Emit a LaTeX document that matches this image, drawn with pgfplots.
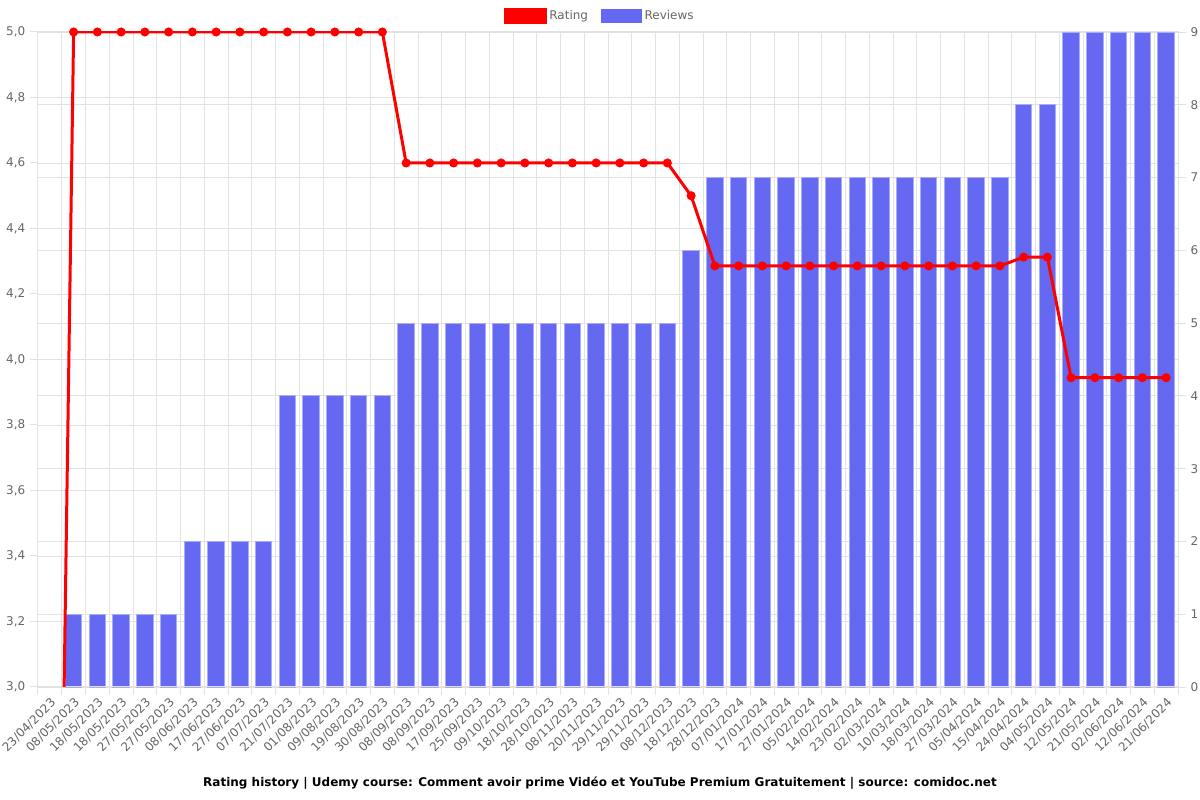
\documentclass[border=0pt]{standalone}
\usepackage{fontspec}
\setmainfont{DejaVu Sans}
\usepackage{pgfplots}
\pgfplotsset{compat=1.18}
\definecolor{barblue}{RGB}{101,104,240}
\definecolor{barborder}{RGB}{170,172,250}
\definecolor{gridgray}{RGB}{226,226,226}
\definecolor{ticktext}{RGB}{102,102,102}
\begin{document}
\begin{tikzpicture}
\useasboundingbox (-28.5pt,-84.75pt) rectangle (871.5pt,515.25pt);
\pgfplotsset{
  base/.style={
    width=855pt, height=491.25pt, scale only axis,
    xmin=-0.5, xmax=47.5,
    axis line style={gridgray, line width=0.75pt},
    tick style={gridgray, line width=0.75pt},
    major tick length=6pt,
    tick align=outside,
    ticklabel style={font=\fontsize{9}{10}\selectfont, text=ticktext},
    /pgf/number format/assume math mode=true,
  }
}
\begin{axis}[base,
  ymin=0, ymax=9,
  ytick={0,1,2,3,4,5,6,7,8,9}, yticklabel pos=right, ytick pos=right,
  xtick={-0.5,0.5,...,47.5}, xticklabels={}, xtick pos=bottom,
  grid=major, grid style={gridgray, line width=0.75pt},
  extra y ticks={0.9,1.8,2.7,3.6,4.5,5.4,6.3,7.2,8.1},
  extra y tick labels={},
  extra y tick style={major tick length=0pt},
  ybar, bar width=0.7,
]
\addplot[fill=barblue, draw=barborder, line width=0.75pt] coordinates {
(1,1) (2,1) (3,1) (4,1) (5,1)
(6,2) (7,2) (8,2) (9,2)
(10,4) (11,4) (12,4) (13,4) (14,4)
(15,5) (16,5) (17,5) (18,5) (19,5) (20,5) (21,5) (22,5) (23,5) (24,5) (25,5) (26,5)
(27,6)
(28,7) (29,7) (30,7) (31,7) (32,7) (33,7) (34,7) (35,7) (36,7) (37,7) (38,7) (39,7) (40,7)
(41,8) (42,8)
(43,9) (44,9) (45,9) (46,9) (47,9)
};
\end{axis}
\begin{axis}[base,
  clip mode=individual,
  ymin=3, ymax=5,
  ytick={3,3.2,3.4,3.6,3.8,4,4.2,4.4,4.6,4.8,5}, ytick pos=left,
  yticklabel style={/pgf/number format/.cd, fixed, fixed zerofill, precision=1, use comma},
  xtick={0,...,47}, xtick pos=bottom, xtick style={draw=none},
  xticklabels={23/04/2023,08/05/2023,18/05/2023,18/05/2023,27/05/2023,27/05/2023,08/06/2023,17/06/2023,27/06/2023,07/07/2023,21/07/2023,01/08/2023,09/08/2023,19/08/2023,30/08/2023,08/09/2023,08/09/2023,17/09/2023,25/09/2023,09/10/2023,18/10/2023,28/10/2023,08/11/2023,20/11/2023,29/11/2023,29/11/2023,08/12/2023,18/12/2023,28/12/2023,07/01/2024,17/01/2024,27/01/2024,05/02/2024,14/02/2024,23/02/2024,02/03/2024,10/03/2024,18/03/2024,27/03/2024,05/04/2024,15/04/2024,24/04/2024,04/05/2024,12/05/2024,21/05/2024,02/06/2024,12/06/2024,21/06/2024},
  xticklabel style={rotate=45, anchor=north east, inner sep=1pt},
  legend style={at={(0.493,1.0244)}, anchor=center, draw=none, fill=none,
    legend columns=2, font=\fontsize{9}{10}\selectfont, text=ticktext,
    /tikz/every even column/.append style={column sep=8pt}},
]
\addplot[red, line width=2.25pt, mark=*, mark size=2.2pt,
  legend image code/.code={\fill[red] (0pt,-5pt) rectangle (30pt,5pt);}] coordinates {
(0,0)
(1,5) (2,5) (3,5) (4,5) (5,5) (6,5) (7,5) (8,5) (9,5) (10,5) (11,5) (12,5) (13,5) (14,5)
(15,4.6) (16,4.6) (17,4.6) (18,4.6) (19,4.6) (20,4.6) (21,4.6) (22,4.6) (23,4.6) (24,4.6) (25,4.6) (26,4.6)
(27,4.5)
(28,4.2857) (29,4.2857) (30,4.2857) (31,4.2857) (32,4.2857) (33,4.2857) (34,4.2857) (35,4.2857) (36,4.2857) (37,4.2857) (38,4.2857) (39,4.2857) (40,4.2857)
(41,4.3125) (42,4.3125)
(43,3.9444) (44,3.9444) (45,3.9444) (46,3.9444) (47,3.9444)
};
\addlegendentry{Rating}
\addlegendimage{legend image code/.code={\fill[barblue] (0pt,-5pt) rectangle (30pt,5pt);}}
\addlegendentry{Reviews}
\node[font=\bfseries\fontsize{9}{10}\selectfont, anchor=center] at (rel axis cs:0.493,-0.1466) {Rating history | Udemy course: Comment avoir prime Vidéo et YouTube Premium Gratuitement | source: comidoc.net};
\end{axis}
\end{tikzpicture}
\end{document}
